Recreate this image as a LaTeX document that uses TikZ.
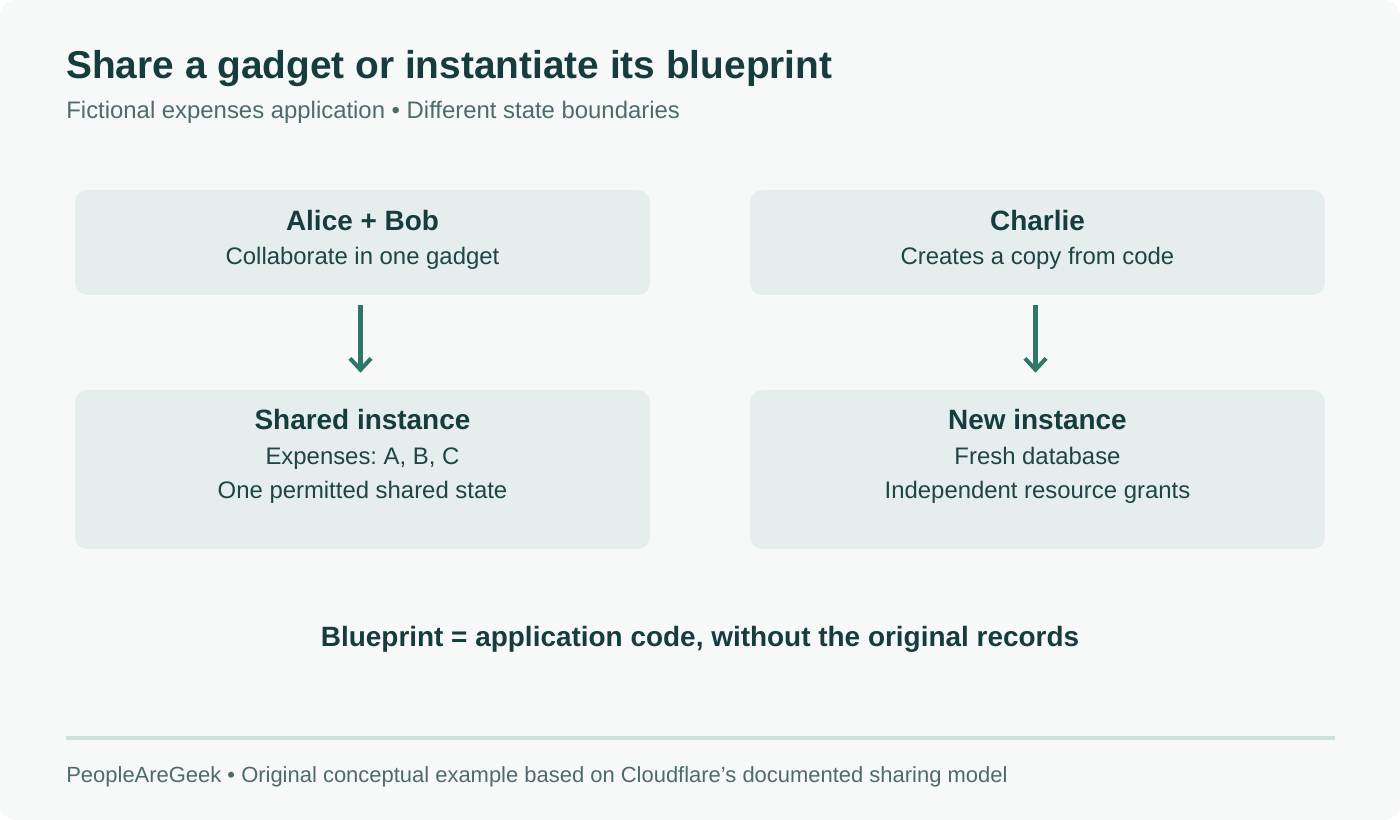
\documentclass[tikz,border=0pt]{standalone}
\usepackage{fontspec}
\setmainfont{Liberation Sans}
\frenchspacing
\definecolor{PageBg}{RGB}{247,249,248}
\definecolor{CardFill}{RGB}{229,238,236}
\definecolor{InkTeal}{RGB}{22,60,62}
\definecolor{BodyTeal}{RGB}{30,68,68}
\definecolor{MutedGray}{RGB}{77,107,107}
\definecolor{ArrowTeal}{RGB}{47,120,104}
\definecolor{RuleGray}{RGB}{207,223,221}
\usetikzlibrary{arrows.meta, positioning}

\begin{document}
\begin{tikzpicture}[x=0.02cm,y=-0.02cm,
        card/.style={rectangle,rounded corners=0.24cm,fill=CardFill,inner sep=0pt,
                     minimum width=11.5cm},
        cardtitle/.style={anchor=base,font=\fontsize{15.9}{18}\selectfont\bfseries,text=InkTeal},
        cardline/.style={anchor=base,font=\fontsize{13.6}{16}\selectfont,text=BodyTeal},
        flow/.style={draw=ArrowTeal,line width=2.3pt,-{Straight Barb[length=6.5pt,width=12pt]},
                     shorten <=10*0.567pt,shorten >=17*0.567pt}]
        % page
        \fill[white] (0,0) rectangle (1400,820);
        \fill[PageBg,rounded corners=0.32cm] (0,0) rectangle (1400,820);
        \node[anchor=base west,inner sep=0pt,font=\fontsize{22.1}{26}\selectfont\bfseries,text=InkTeal]
          (title) at (66,79) {Share a gadget or instantiate its blueprint};
        \node[anchor=base west,inner sep=0pt,font=\fontsize{13.6}{16}\selectfont,text=MutedGray]
          (subtitle) at (66,119) {Fictional expenses application • Different state boundaries};
        % cards
        \node[card,minimum height=2.1cm]  (alice)   at (362.5,242.5)  {};
        \node[card,minimum height=2.1cm]  (charlie) at (1037.5,242.5) {};
        \node[card,minimum height=3.18cm] (shared)  at (362.5,469.5)  {};
        \node[card,minimum height=3.18cm] (fresh)   at (1037.5,469.5) {};
        \node[cardtitle] (aliceT) at (362.5,231) {Alice + Bob};
        \node[cardline]  (aliceB) at (362.5,265) {Collaborate in one gadget};
        \node[cardtitle] (charlieT) at (1037.5,231) {Charlie};
        \node[cardline]  (charlieB) at (1037.5,265) {Creates a copy from code};
        \node[cardtitle] (sharedT) at (362.5,430) {Shared instance};
        \node[cardline]  (sharedB) at (362.5,465) {Expenses: A, B, C};
        \node[cardline]  (sharedC) at (362.5,499) {One permitted shared state};
        \node[cardtitle] (freshT) at (1037.5,430) {New instance};
        \node[cardline]  (freshB) at (1037.5,465) {Fresh database};
        \node[cardline]  (freshC) at (1037.5,499) {Independent resource grants};
        \draw[flow] ([xshift=-2*0.567pt]alice.south) -- ([xshift=-2*0.567pt]shared.north);
        \draw[flow] ([xshift=-2*0.567pt]charlie.south) -- ([xshift=-2*0.567pt]fresh.north);
        \node[cardtitle] (blueprint) at (700,646) {Blueprint = application code, without the original records};
        % footer
        \coordinate (ruleL) at (66,738);
        \coordinate (ruleR) at (1335,738);
        \draw[RuleGray,line width=2.3pt] (ruleL) -- (ruleR);
        \node[anchor=base west,inner sep=0pt,font=\fontsize{12.5}{15}\selectfont,text=MutedGray]
          (footer) at (66,782) {PeopleAreGeek • Original conceptual example based on Cloudflare’s documented sharing model};
      \end{tikzpicture}
\end{document}
